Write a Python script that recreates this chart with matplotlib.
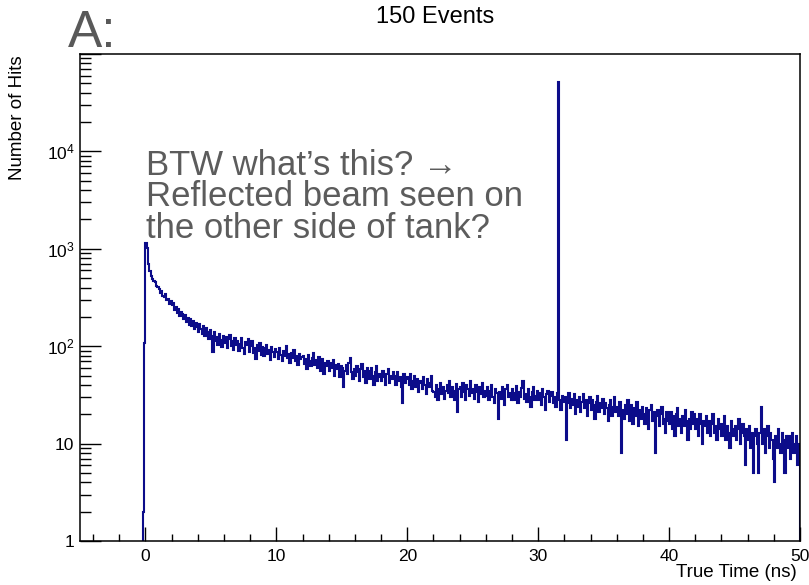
import matplotlib
matplotlib.use("Agg")
import matplotlib.pyplot as plt
import matplotlib.ticker as mticker
import numpy as np

# -----------------------------
# Histogram data, 0.1 ns bins starting at -0.2 ns
# -----------------------------
t_start = -0.2
bin_width = 0.1

pre_counts = [2, 107]

counts = [
    1150, 1010, 700, 585, 530, 490, 468, 452, 418, 402,   # 0-1 ns
    385, 352, 370, 330, 318, 340, 296, 305, 272, 290,
    262, 280, 236, 252, 218, 240, 205, 226, 212, 190,
    208, 178, 195, 166, 188, 160, 182, 150, 174, 158,
    140, 168, 150, 132, 160, 126, 152, 140, 118, 145,
    128, 88, 140, 112, 124, 104, 135, 116, 98, 126,       # 5-6 ns
    108, 124, 96, 118, 130, 100, 112, 92, 120, 104,
    114, 90, 106, 120, 96, 84, 110, 102, 118, 88,
    100, 112, 86, 96, 74, 104, 90, 108, 82, 98,
    80, 96, 104, 84, 92, 72, 98, 88, 78, 94,
    88, 74, 96, 82, 70, 90, 80, 100, 76, 84,              # 10-11 ns
    68, 86, 76, 92, 70, 80, 64, 84, 74, 78,
    80, 66, 74, 58, 82, 70, 62, 76, 86, 64,
    72, 60, 78, 56, 66, 74, 52, 68, 62, 70,
    56, 68, 60, 72, 50, 64, 58, 66, 48, 62,
    60, 38, 56, 64, 52, 68, 75, 54, 46, 58,               # 15-16 ns
    50, 62, 54, 44, 58, 66, 48, 56, 42, 60,
    56, 46, 60, 50, 40, 54, 62, 44, 52, 48,
    44, 56, 48, 40, 52, 58, 42, 50, 46, 54,
    50, 40, 54, 44, 48, 38, 26, 52, 42, 46,
    48, 40, 52, 36, 44, 50, 38, 46, 34, 42,               # 20-21 ns
    44, 36, 48, 40, 32, 46, 38, 42, 50, 35,
    34, 30, 40, 28, 36, 42, 32, 38, 29, 35,
    40, 33, 44, 30, 38, 35, 28, 41, 21, 36,
    38, 30, 42, 34, 28, 40, 36, 31, 44, 33,
    36, 29, 40, 34, 27, 38, 32, 42, 30, 35,               # 25-26 ns
    31, 38, 28, 35, 40, 30, 26, 36, 33, 18,
    34, 29, 38, 31, 25, 36, 40, 30, 33, 28,
    36, 28, 33, 39, 26, 34, 30, 37, 44, 29,
    32, 27, 36, 30, 24, 34, 38, 28, 31, 35,
    28, 33, 25, 36, 30, 22, 32, 35, 27, 31,               # 30-31 ns
    34, 26, 30, 24, 33, 52000, 28, 22, 31, 27,
    30, 11, 26, 33, 23, 29, 25, 32, 20, 28,
    24, 30, 21, 27, 32, 23, 28, 19, 26, 30,
    22, 28, 25, 18, 27, 31, 21, 26, 23, 29,
    20, 26, 23, 17, 25, 28, 19, 24, 30, 21,               # 35-36 ns
    24, 19, 27, 8, 22, 18, 25, 20, 28, 17,
    21, 25, 16, 23, 19, 27, 15, 22, 18, 24,
    20, 16, 23, 18, 14, 22, 25, 17, 21, 8,
    19, 22, 15, 20, 24, 16, 18, 13, 21, 17,
    16, 21, 14, 19, 12, 20, 23, 15, 18, 13,               # 40-41 ns
    19, 15, 22, 17, 11, 18, 14, 21, 16, 20,
    14, 18, 12, 20, 16, 10, 17, 15, 19, 13,
    17, 12, 16, 20, 13, 15, 11, 18, 14, 16,
    12, 16, 19, 11, 15, 13, 9, 17, 14, 12,
    15, 11, 14, 18, 10, 13, 16, 12, 6, 14,                # 45-46 ns
    11, 15, 9, 13, 5, 12, 14, 10, 5, 13,
    24, 10, 14, 8, 12, 15, 9, 13, 11, 7,
    4, 12, 9, 14, 10, 8, 13, 11, 5, 12,
    9, 12, 7, 11, 13, 8, 10, 12, 6, 10,
]

annotation = 'BTW what\u2019s this? \u2192\nReflected beam seen on\nthe other side of tank?'

values = np.array(pre_counts + counts, dtype=float)
edges = t_start + bin_width * np.arange(len(values) + 1)

plt.rcParams['font.family'] = ['Liberation Sans', 'DejaVu Sans']
plt.rcParams['mathtext.fontset'] = 'custom'
plt.rcParams['mathtext.rm'] = 'Liberation Sans'
plt.rcParams['mathtext.default'] = 'regular'

fig = plt.figure(figsize=(8.09, 5.85), dpi=100)
ax = fig.add_axes([80 / 809, 1 - 541 / 585, 720 / 809, 487 / 585])

ax.stairs(values, edges, baseline=0.5, color='#0c0c8a', linewidth=1.5)

ax.set_yscale('log')
ax.set_xlim(-5, 50)
ax.set_ylim(1, 1e5)

# ROOT-like ticks
ax.xaxis.set_major_locator(mticker.MultipleLocator(10))
ax.xaxis.set_minor_locator(mticker.MultipleLocator(2))
ax.yaxis.set_major_locator(mticker.LogLocator(base=10, numticks=10))
ax.yaxis.set_minor_locator(mticker.LogLocator(base=10, subs=np.arange(2, 10), numticks=20))


def ylabel_fmt(v, pos):
    if v < 5:
        return '1'
    if v < 50:
        return '10'
    if v > 5e4:
        return ''
    return r'$10^{%d}$' % int(round(np.log10(v)))


ax.yaxis.set_major_formatter(mticker.FuncFormatter(ylabel_fmt))
ax.yaxis.set_minor_formatter(mticker.NullFormatter())
ax.tick_params(axis='x', which='major', direction='in', length=10, width=1, labelsize=12.5, pad=6)
ax.tick_params(axis='x', which='minor', direction='in', length=5, width=1)
ax.tick_params(axis='y', which='major', direction='in', length=15, width=1, labelsize=12.5, pad=4)
ax.tick_params(axis='y', which='minor', direction='in', length=8, width=1)
for sp in ax.spines.values():
    sp.set_linewidth(1.1)

# axis titles
fig.text(797 / 809, 1 - 577 / 585, 'True Time (ns)', ha='right', va='baseline', fontsize=13.5)
fig.text(18 / 809, 1 - 55 / 585, 'Number of Hits', ha='center', va='top', rotation=90, fontsize=13.5)
fig.text(435 / 809, 1 - 23 / 585, '150 Events', ha='center', va='baseline', fontsize=17)

# slide annotations (va='baseline' pins the last line's baseline)
fig.text(68 / 809, 1 - 47 / 585, 'A:', ha='left', va='baseline', fontsize=37, color='#595959')
fig.text(146 / 809, 1 - 238 / 585, annotation, ha='left', va='baseline',
         fontsize=25, color='#5c5c5c', linespacing=0.95)

fig.savefig('out.png', dpi=100)
plt.close(fig)
print("saved out.png")
